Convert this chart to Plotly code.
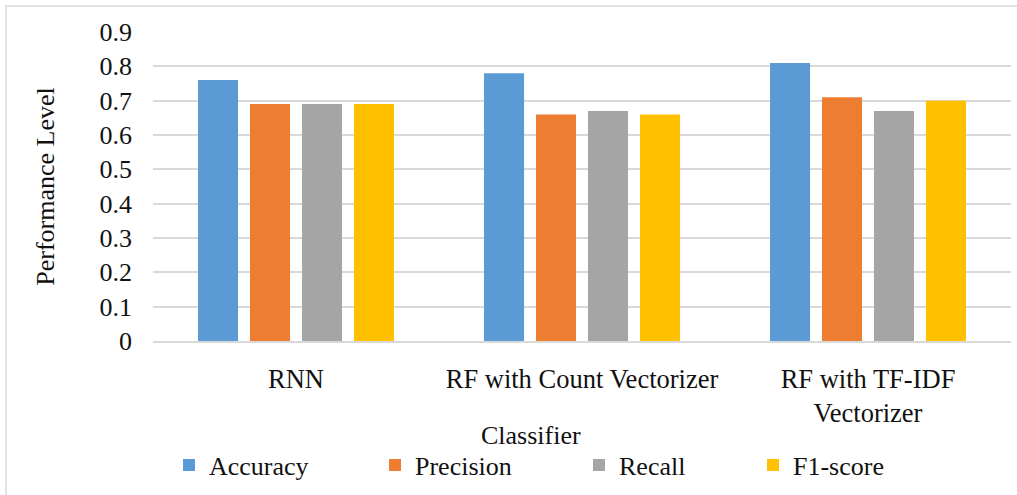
import plotly.graph_objects as go

categories = ["RNN", "RF with Count Vectorizer", "RF with TF-IDF<br>Vectorizer"]
series_names = ["Accuracy", "Precision", "Recall", "F1-score"]
accuracy = [0.76, 0.78, 0.81]
precision = [0.69, 0.66, 0.71]
recall = [0.69, 0.67, 0.67]
f1_score = [0.69, 0.66, 0.70]
y_ticks = [0, 0.1, 0.2, 0.3, 0.4, 0.5, 0.6, 0.7, 0.8, 0.9]
y_tick_labels = ["0", "0.1", "0.2", "0.3", "0.4", "0.5", "0.6", "0.7", "0.8", "0.9"]

colors = ["#5B9BD5", "#ED7D31", "#A5A5A5", "#FFC000"]
legend_widths = [161, 159, 129, 100]

W, H = 1017, 495
ML, MR, MT, MB = 153, 6, 32, 154
PW, PH = W - ML - MR, H - MT - MB

FONT = "Liberation Serif, Times New Roman, serif"

fig = go.Figure()
for name, vals, col, lw in zip(series_names, [accuracy, precision, recall, f1_score], colors, legend_widths):
    fig.add_trace(go.Bar(x=categories, y=vals, name=name, marker_color=col,
                         marker_line_width=0, legendwidth=lw))

def px_x(px):
    return (px - ML) / PW

def px_y(py):
    return (H - MB - py) / PH

fig.update_layout(
    width=W, height=H,
    margin=dict(l=ML, r=MR, t=MT, b=MB),
    paper_bgcolor="white", plot_bgcolor="white",
    font=dict(family=FONT, size=26, color="#111111"),
    barmode="group", bargap=0.273, bargroupgap=0.23,
    legend=dict(orientation="h", x=px_x(169), xanchor="left", y=px_y(465), yanchor="middle",
                font=dict(size=26), bgcolor="rgba(0,0,0,0)", itemwidth=30),
    showlegend=True,
    shapes=[dict(type="rect", xref="paper", yref="paper",
                 x0=px_x(6), x1=px_x(W + 10), y0=px_y(H + 10), y1=px_y(6),
                 line=dict(color="#D9D9D9", width=1.5), fillcolor="rgba(0,0,0,0)", layer="below")],
    annotations=[dict(text="Classifier", xref="paper", yref="paper", x=px_x(531), y=px_y(435),
                      xanchor="center", yanchor="middle", showarrow=False, font=dict(size=26))],
)
fig.update_xaxes(showgrid=False, showline=True, linecolor="#D9D9D9", linewidth=1.5,
                 ticks="", tickfont=dict(size=26.5), ticklabelstandoff=13)
fig.update_yaxes(range=[0, 0.9], tickvals=y_ticks, ticktext=y_tick_labels,
                 showgrid=True, gridcolor="#D9D9D9", gridwidth=1.5, zeroline=False,
                 showline=False, ticks="", tickfont=dict(size=26), ticklabelstandoff=20,
                 title=dict(text="Performance Level", font=dict(size=26), standoff=37))

fig.write_html("out.html")
